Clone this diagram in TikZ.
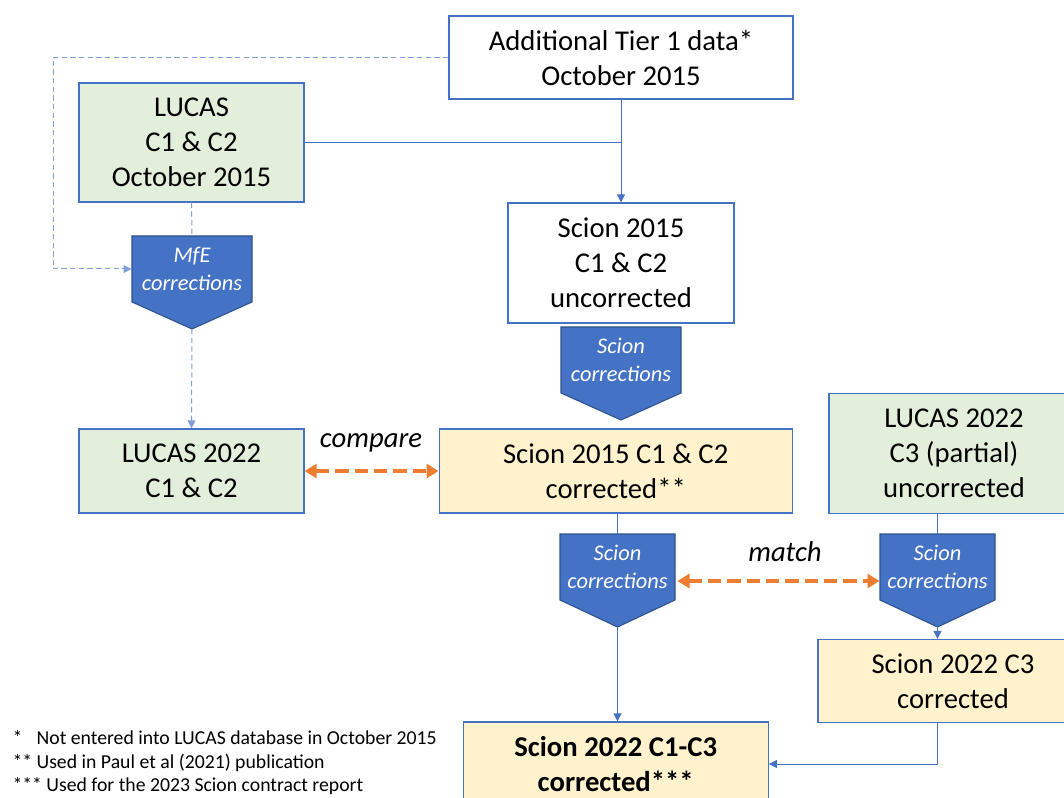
\documentclass[tikz,border=0pt]{standalone}
\usepackage{fontspec}
\setmainfont{Carlito}
\usetikzlibrary{arrows.meta}
\definecolor{ofblue}{HTML}{4472C4}
\definecolor{ofdark}{HTML}{2F528F}
\definecolor{oflight}{HTML}{7D9FDA}
\definecolor{ofgreen}{HTML}{E2EFDA}
\definecolor{ofyellow}{HTML}{FFF2CC}
\definecolor{oforange}{HTML}{ED7D31}
\begin{document}
\begin{tikzpicture}[x=.75pt,y=-.75pt,line width=.75pt,
  every node/.style={align=center,inner sep=0pt,font=\fontsize{21.5}{26.3}\selectfont},
  box/.style={draw=ofblue,line width=1pt,fill=white},
  green/.style={box,fill=ofgreen},
  yellow/.style={box,fill=ofyellow},
  corr/.style={draw=ofdark,fill=ofblue,line width=.8pt},
  corrtext/.style={text=white,font=\fontsize{16.8}{20.5}\selectfont\itshape,
    minimum width=90pt,minimum height=49.5pt},
  link/.style={draw=ofblue,line width=.75pt,-{Triangle[length=6pt,width=6pt]}},
  plain/.style={draw=ofblue,line width=.75pt},
  dlink/.style={draw=oflight,line width=.75pt,dash pattern=on 4pt off 2.5pt},
  cmp/.style={draw=oforange,line width=2.6pt,dash pattern=on 10pt off 4.5pt,
    {Triangle[length=9pt,width=10.5pt]}-{Triangle[length=9pt,width=10.5pt]}}]
  \useasboundingbox (0,0) rectangle (1064,798);
  \clip (0,0) rectangle (1064,798);
  % data boxes
  \node[box,minimum width=258pt,minimum height=62.25pt] (tier) at (621,57.5)
    {Additional Tier 1 data*\\October 2015};
  \node[green,minimum width=168.75pt,minimum height=89.25pt] (lucas15) at (191.5,142.5)
    {LUCAS\\C1 \& C2\\October 2015};
  \node[box,minimum width=169.5pt,minimum height=90pt] (scion15) at (621,263)
    {Scion 2015\\C1 \& C2\\uncorrected};
  \node[green,minimum width=168.75pt,minimum height=63pt] (lucas22) at (191.5,471)
    {LUCAS 2022\\C1 \& C2};
  \node[yellow,minimum width=264.75pt,minimum height=63pt] (scion15c) at (615.7,471)
    {Scion 2015 C1 \& C2\\corrected**};
  \node[green,minimum width=187.5pt,minimum height=90pt] (lucasc3) at (954,453.3)
    {LUCAS 2022\\C3 (partial)\\uncorrected};
  \node[yellow,minimum width=202.5pt,minimum height=62.25pt] (scion22c3) at (953,681)
    {Scion 2022 C3\\corrected};
  \node[yellow,minimum width=228.75pt,minimum height=63pt,font=\fontsize{21.5}{26.3}\selectfont\bfseries]
    (scion22) at (615.7,764) {Scion 2022 C1-C3\\corrected***};
  % correction steps
  \draw[corr] (132,236) -- (252,236) -- (252,302) -- (192,329) coordinate (mfetip) -- (132,302) -- cycle;
  \node[corrtext] (mfe) at (192,269) {MfE\\corrections};
  \draw[corr] (561,327) -- (681,327) -- (681,393) -- (621,420) coordinate (sc1tip) -- (561,393) -- cycle;
  \node[corrtext] (sc1) at (621,360) {Scion\\corrections};
  \draw[corr] (560,534) -- (675,534) -- (675,600) -- (617.5,627) coordinate (sc2tip) -- (560,600) -- cycle;
  \node[corrtext,minimum width=86.25pt] (sc2) at (617.5,567) {Scion\\corrections};
  \draw[corr] (880,534) -- (995,534) -- (995,600) -- (937.5,627) coordinate (sc3tip) -- (880,600) -- cycle;
  \node[corrtext,minimum width=86.25pt] (sc3) at (937.5,567) {Scion\\corrections};
  % connectors
  \coordinate (bend) at (53,57.5);
  \draw[link] (tier.south) -- (scion15.north);
  \draw[plain] (lucas15.east) -- (lucas15.east -| tier.south);
  \draw[dlink,-{Triangle[length=6pt,width=6pt]}] (tier.west) -- (bend) |- (mfe.west);
  \draw[dlink] (lucas15.south) -- (mfe.north);
  \draw[dlink,-{Triangle[length=6pt,width=6pt]}] (mfetip) -- (lucas22.north);
  \draw[cmp] (lucas22.east) -- (scion15c.west);
  \node[font=\fontsize{21.5}{26.3}\selectfont\itshape] (cmplabel) at (371,443) {compare};
  \draw[plain] (sc2.north |- scion15c.south) -- (sc2.north);
  \draw[link] (sc2tip) -- (sc2tip |- scion22.north);
  \draw[cmp] ([xshift=1.5pt,yshift=-10.5pt]sc2.east) -- ([yshift=-10.5pt]sc3.west);
  \node[font=\fontsize{21.5}{26.3}\selectfont\itshape] (matchlabel) at (785,552) {match};
  \draw[plain] (sc3.north |- lucasc3.south) -- (sc3.north);
  \draw[link] (sc3tip) -- (sc3tip |- scion22c3.north);
  \draw[link] (sc3tip |- scion22c3.south) |- (scion22.east);
  % notes
  \node[anchor=west,align=left,font=\fontsize{14.8}{17.6}\selectfont] (notes) at (12,763)
    {*\hphantom{*} Not entered into LUCAS database in October 2015\\
     ** Used in Paul et al (2021) publication\\
     *** Used for the 2023 Scion contract report};
\end{tikzpicture}
\end{document}
